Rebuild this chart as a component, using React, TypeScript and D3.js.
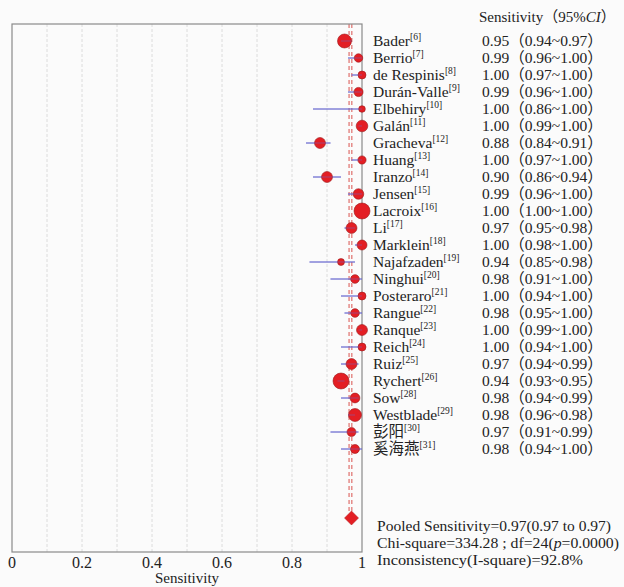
import React from "react";
import * as d3 from "d3";

const studies = ["Bader","Berrio","de Respinis","Durán-Valle","Elbehiry","Galán","Gracheva","Huang","Iranzo","Jensen","Lacroix","Li","Marklein","Najafzaden","Ninghui","Posteraro","Rangue","Ranque","Reich","Ruiz","Rychert","Sow","Westblade","彭阳","奚海燕"];
const refs = [6,7,8,9,10,11,12,13,14,15,16,17,18,19,20,21,22,23,24,25,26,28,29,30,31];
const sens = [0.95,0.99,1.00,0.99,1.00,1.00,0.88,1.00,0.90,0.99,1.00,0.97,1.00,0.94,0.98,1.00,0.98,1.00,1.00,0.97,0.94,0.98,0.98,0.97,0.98];
const lower = [0.94,0.96,0.97,0.96,0.86,0.99,0.84,0.97,0.86,0.96,1.00,0.95,0.98,0.85,0.91,0.94,0.95,0.99,0.94,0.94,0.93,0.94,0.96,0.91,0.94];
const upper = [0.97,1.00,1.00,1.00,1.00,1.00,0.91,1.00,0.94,1.00,1.00,0.98,1.00,0.98,1.00,1.00,1.00,1.00,1.00,0.99,0.95,0.99,0.98,0.99,1.00];
const weights = [49,18,16,21,11,34,30,17,30,28,64,30,25,12,19,16,19,30,16,30,64,24,42,20,20];
const xTicks = [0, 0.2, 0.4, 0.6, 0.8, 1];
const gridTicks = [0.1,0.2,0.3,0.4,0.5,0.6,0.7,0.8,0.9];
const pooled = 0.97;
const pooledLines = [0.963, 0.971];
const summaryLines = [
  "Pooled Sensitivity=0.97(0.97 to 0.97)",
  "Chi-square=334.28 ; df=24(",
  "Inconsistency(I-square)=92.8%",
];

const FONT = "'Liberation Serif', 'Noto Sans CJK SC', serif";

export default function App() {
  const W = 624, H = 587;
  const x = d3.scaleLinear().domain([0, 1]).range([12, 362]);
  const y = d3.scaleLinear().domain([0, studies.length - 1]).range([41, 449]);
  const r = d3.scaleSqrt().domain([0, d3.max(weights) as number]).range([0, 8]);
  const fmt = d3.format(".2f");
  const plotTop = 24, plotBottom = 552;
  const diamondY = 518;
  const dh = 7;
  const fs = 15.5;

  return (
    <svg width={W} height={H} style={{ position: "absolute", left: 0, top: 0, background: "#fbfbfb" }} fontFamily={FONT}>
      <rect x={0} y={0} width={W} height={H} fill="#fbfbfb" />
      {gridTicks.map((t) => (
        <line key={t} x1={x(t)} x2={x(t)} y1={plotTop} y2={plotBottom} stroke="#dcdcdc" strokeWidth={1} strokeDasharray="3,2" />
      ))}
      {pooledLines.map((p, i) => (
        <line key={i} x1={x(p)} x2={x(p)} y1={plotTop} y2={plotBottom - 40} stroke="#d9534f" strokeWidth={1} strokeDasharray="4,3" />
      ))}
      <rect x={x(0)} y={plotTop} width={x(1) - x(0)} height={plotBottom - plotTop} fill="none" stroke="#8a8a8a" strokeWidth={1.2} />
      {studies.map((s, i) => (
        <g key={s}>
          <line x1={x(lower[i])} x2={x(upper[i])} y1={y(i)} y2={y(i)} stroke="#6a6ad0" strokeWidth={1} />
          <circle cx={x(sens[i])} cy={y(i)} r={r(weights[i])} fill="#e31e24" stroke="#9a1a1a" strokeWidth={0.6} />
          <line x1={x(lower[i])} x2={x(upper[i])} y1={y(i)} y2={y(i)} stroke="#6a6ad0" strokeWidth={0.8} opacity={0.6} />
          <text x={373} y={y(i) + 5} fontSize={fs} fill="#222">
            {s}
            <tspan fontSize={9.5} dy={-6}>[{refs[i]}]</tspan>
          </text>
          <text x={482} y={y(i) + 5} fontSize={fs} fill="#222">
            {fmt(sens[i])}（{fmt(lower[i])}~{fmt(upper[i])}）
          </text>
        </g>
      ))}
      <path
        d={`M${x(pooled) - 7},${diamondY} L${x(pooled)},${diamondY - dh} L${x(pooled) + 7},${diamondY} L${x(pooled)},${diamondY + dh} Z`}
        fill="#e31e24"
        stroke="#b01818"
        strokeWidth={0.5}
      />
      <text x={479} y={22} fontSize={15} fill="#222">
        Sensitivity（95%<tspan fontStyle="italic">CI</tspan>）
      </text>
      {xTicks.map((t) => (
        <text key={t} x={x(t)} y={568} fontSize={16} textAnchor="middle" fill="#222">
          {t === 0 || t === 1 ? String(t) : t.toFixed(1)}
        </text>
      ))}
      <text x={187} y={583} fontSize={15} textAnchor="middle" fill="#222">Sensitivity</text>
      <text x={377} y={531} fontSize={15} fill="#222" textLength={234} lengthAdjust="spacingAndGlyphs">{summaryLines[0]}</text>
      <text x={377} y={548} fontSize={15} fill="#222" textLength={242} lengthAdjust="spacingAndGlyphs">
        {summaryLines[1]}<tspan fontStyle="italic">p</tspan>=0.0000)
      </text>
      <text x={377} y={565} fontSize={15} fill="#222" textLength={206} lengthAdjust="spacingAndGlyphs">{summaryLines[2]}</text>
    </svg>
  );
}
